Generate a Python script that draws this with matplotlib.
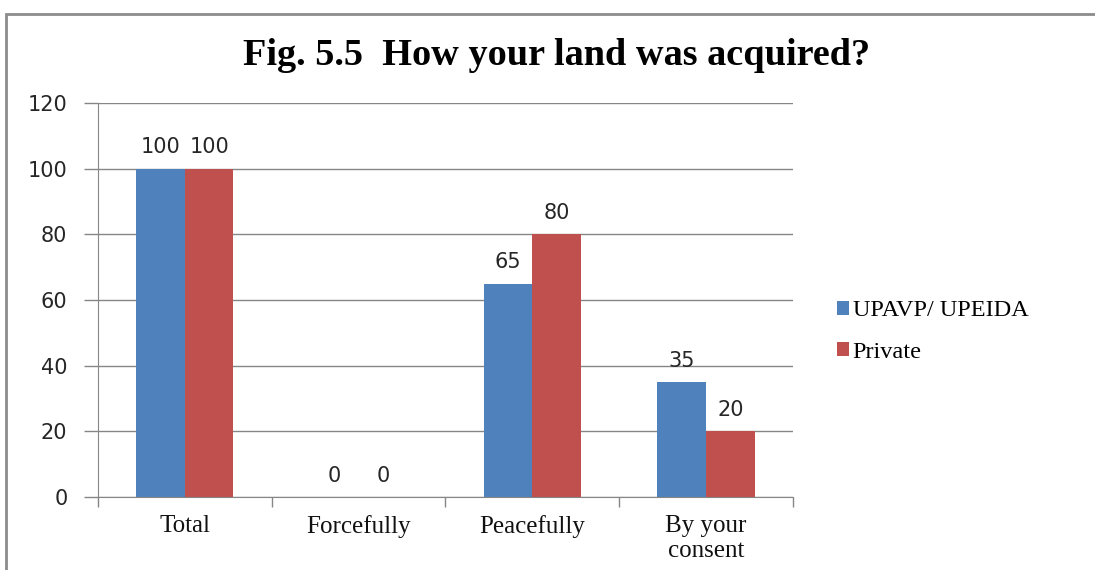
import matplotlib.pyplot as plt
from matplotlib.patches import Rectangle
import numpy as np

categories = ['Total', 'Forcefully', 'Peacefully', 'By your\nconsent']
upavp = [100, 0, 65, 35]
private = [100, 0, 80, 20]
series_names = ['UPAVP/ UPEIDA', 'Private']
yticks = [0, 20, 40, 60, 80, 100, 120]

blue = '#4F81BD'
red = '#C0504D'
grid_col = '#868686'

fig = plt.figure(figsize=(10.95, 5.7), dpi=100)
ax = fig.add_axes([0.0895, 0.128, 0.6345, 0.691])

# border round the chart
fig.patches.append(Rectangle((6 / 1095, -0.1), 1.2, 1 - 14 / 570 + 0.1,
                             transform=fig.transFigure, fill=False,
                             edgecolor='#8c8c8c', linewidth=2))

x = np.arange(len(categories))
w = 0.28
b1 = ax.bar(x - w / 2, upavp, w, color=blue, label=series_names[0])
b2 = ax.bar(x + w / 2, private, w, color=red, label=series_names[1])

lab_font = dict(family='DejaVu Sans', fontsize=15, color='#262626')
for bars in (b1, b2):
    for r in bars:
        ax.text(r.get_x() + r.get_width() / 2, r.get_height() + 3.5,
                f"{int(r.get_height())}", ha='center', va='bottom', **lab_font)

ax.set_xlim(-0.5, len(categories) - 0.5)
ax.set_ylim(0, 120)
ax.set_yticks(yticks)
ax.set_yticklabels([str(v) for v in yticks], **lab_font)
ax.yaxis.grid(True, color=grid_col, linewidth=1)
ax.set_axisbelow(True)

# category labels between boundary ticks
ax.set_xticks(np.arange(len(categories) + 1) - 0.5)
ax.set_xticklabels([])
ax.tick_params(axis='x', length=7, color=grid_col, width=1)
ax.tick_params(axis='y', length=10, color=grid_col, width=1, pad=12)
for i, c in enumerate(categories):
    ax.text(i, -5.5, c, ha='center', va='top', family='Liberation Serif',
            fontsize=18, linespacing=1.2, color='#111111')

for s in ['top', 'right']:
    ax.spines[s].set_visible(False)
for s in ['left', 'bottom']:
    ax.spines[s].set_color(grid_col)

fig.text(0.508, 0.903, 'Fig. 5.5  How your land was acquired?',
         ha='center', va='center', family='Liberation Serif',
         fontweight='bold', fontsize=27.5)

ax.legend(loc='center left', bbox_to_anchor=(1.046, 0.42), frameon=False,
          prop={'family': 'Liberation Serif', 'size': 17.5},
          handlelength=0.5, handleheight=0.5, handletextpad=0.15,
          labelspacing=0.85, borderpad=0)

fig.savefig('out.png', dpi=100)
